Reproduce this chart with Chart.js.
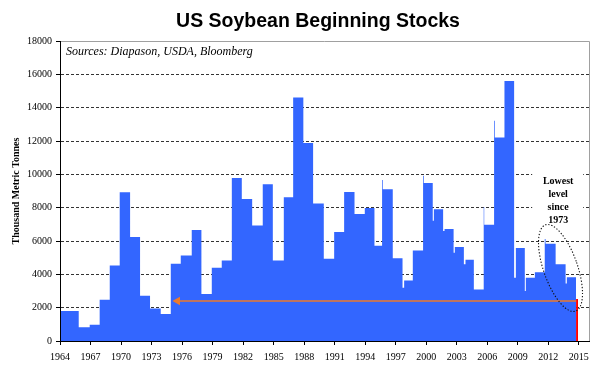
<!DOCTYPE html>
<html><head><meta charset="utf-8">
<script src="https://cdn.jsdelivr.net/npm/chart.js@4.4.0/dist/chart.umd.min.js"></script>
<style>html,body{margin:0;padding:0;background:#fff;}#wrap{width:610px;height:375px;}</style>
</head><body><div id="wrap"><canvas id="c" width="610" height="375"></canvas></div>
<script>
const chartTitle = 'US Soybean Beginning Stocks';
const sourceNote = 'Sources: Diapason, USDA, Bloomberg';
const yAxisTitle = 'Thousand Metric Tonnes';
const calloutLines = ['Lowest', 'level', 'since', '1973'];
const tickYears = [1964,1967,1970,1973,1976,1979,1982,1985,1988,1991,1994,1997,2000,2003,2006,2009,2012,2015];
// decimal year at which each stock level starts in the source series
const periodStart = [1964.00,1965.84,1966.92,1967.90,1968.89,1969.87,1970.89,1971.87,1972.85,1973.90,
  1974.89,1975.87,1976.95,1977.90,1978.92,1979.90,1980.89,1981.87,1982.89,1983.93,
  1984.92,1986.00,1986.92,1987.92,1988.88,1989.93,1990.95,1991.93,1992.95,1993.96,
  1994.91,1995.66,1995.73,1996.71,1997.67,1997.83,1998.68,1999.69,1999.76,2000.64,
  2000.75,2001.66,2001.80,2002.69,2002.81,2003.70,2003.86,2004.68,2005.65,2005.70,
  2006.67,2006.74,2007.69,2008.64,2008.81,2009.69,2009.79,2010.68,2011.65,2011.73,
  2012.72,2013.70,2013.82];
// thousand metric tonnes
const stocks = [1800,818,978,2475,4530,8920,6247,2714,1956,1617,
  4630,5129,6667,2814,4391,4830,9780,8522,6926,9400,
  4830,8623,14610,11876,8243,4930,6547,8942,7625,7984,
  5709,9661,9102,4970,3200,3632,5428,9910,9480,7210,
  7904,6600,6724,5300,5646,4610,4868,3090,8040,6975,
  13210,12215,15606,3790,5580,3000,3792,4131,6125,5828,
  4611,3450,3832];
const seriesEnd = 2014.73;
const latestStart = 2014.73, latestEnd = 2014.92, latestStock = 2515;
const lowLineStart = 1975.55, lowLineEnd = 2014.73, lowLevel = 2400;
const calloutYear = 2012.97, calloutTopValue = 9700;
const ellipseYear = 2013.2, ellipseValue = 4380;

const blueData = periodStart.map((x, i) => ({x, y: stocks[i]}));
blueData.push({x: seriesEnd, y: 0});
const redData = [{x: latestStart, y: latestStock}, {x: latestEnd, y: 0}];
const lineData = [{x: lowLineStart, y: lowLevel}, {x: lowLineEnd, y: lowLevel}];

const decor = {
  id: 'decor',
  afterDatasetsDraw(chart) {
    const {ctx, chartArea: a, scales: {x, y}} = chart;
    ctx.save();
    ctx.strokeStyle = '#a0a0a0'; ctx.lineWidth = 1; ctx.setLineDash([]);
    ctx.beginPath();
    ctx.moveTo(a.left, Math.round(a.top) + 0.5);
    ctx.lineTo(Math.round(a.right) + 0.5, Math.round(a.top) + 0.5);
    ctx.lineTo(Math.round(a.right) + 0.5, a.bottom);
    ctx.stroke();
    ctx.fillStyle = '#000';
    ctx.textAlign = 'center'; ctx.textBaseline = 'alphabetic';
    ctx.font = 'bold 19.5px "Liberation Sans", Arial, sans-serif';
    ctx.fillText(chartTitle, 318, 27);
    ctx.textAlign = 'left';
    ctx.font = 'italic 12px "Liberation Serif", serif';
    ctx.fillText(sourceNote, a.left + 6, a.top + 13.5);
    const tx = x.getPixelForValue(calloutYear);
    const ty = y.getPixelForValue(calloutTopValue);
    ctx.fillStyle = '#fff';
    ctx.fillRect(tx - 26, ty - 9, 51, 55);
    ctx.fillStyle = '#000';
    ctx.textAlign = 'center';
    ctx.font = 'bold 10px "Liberation Serif", serif';
    calloutLines.forEach((t, i) => ctx.fillText(t, tx, ty + 5 + i * 12.9));
    const ex = x.getPixelForValue(ellipseYear);
    const ey = y.getPixelForValue(ellipseValue);
    ctx.strokeStyle = '#111'; ctx.lineWidth = 1.1; ctx.setLineDash([1.3, 1.8]);
    ctx.beginPath();
    ctx.ellipse(ex, ey, 17, 45.7, -19.2 * Math.PI / 180, 0, Math.PI * 2);
    ctx.stroke();
    ctx.restore();
  }
};

Chart.defaults.font.family = '"Liberation Serif", "Times New Roman", serif';
Chart.defaults.color = '#000';

new Chart(document.getElementById('c'), {
  type: 'line',
  data: {
    datasets: [
      {label: 'Lowest level line', data: lineData, borderColor: '#ec7a2c', backgroundColor: '#ec7a2c',
        borderWidth: 1.5, fill: false, pointStyle: 'triangle', pointRotation: -90,
        pointRadius: [3.5, 0], pointHoverRadius: 0},
      {label: 'Latest', data: redData, stepped: 'before', borderWidth: 0, borderColor: 'rgba(0,0,0,0)',
        backgroundColor: '#ff0000', fill: 'origin', pointRadius: 0, pointHoverRadius: 0},
      {label: 'Beginning stocks', data: blueData, stepped: 'before', borderWidth: 0, borderColor: 'rgba(0,0,0,0)',
        backgroundColor: '#3366ff', fill: 'origin', pointRadius: 0, pointHoverRadius: 0}
    ]
  },
  plugins: [decor],
  options: {
    responsive: false,
    animation: false,
    events: [],
    layout: {padding: {top: 41, right: 21, left: 0, bottom: 0}},
    plugins: {legend: {display: false}, tooltip: {enabled: false}, title: {display: false}},
    scales: {
      x: {
        type: 'linear', min: 1964, max: 2016,
        afterBuildTicks: s => { s.ticks = tickYears.map(v => ({value: v})); },
        afterFit: s => { s.height = 34; },
        grid: {drawOnChartArea: false, drawTicks: true, tickLength: 4, color: '#000', tickColor: '#000'},
        border: {display: true, color: '#000', width: 1, z: 1},
        ticks: {font: {size: 10}, color: '#000', padding: 6, maxRotation: 0, autoSkip: false,
          callback: v => String(v)}
      },
      y: {
        min: 0, max: 18000,
        afterFit: s => { s.width = 60; },
        ticks: {stepSize: 2000, font: {size: 10}, color: '#000', padding: 4, callback: v => String(v)},
        grid: {
          color: c => (c.tick && (c.tick.value === 0 || c.tick.value === 18000)) ? 'rgba(0,0,0,0)' : '#333',
          tickColor: '#000', tickLength: 4, lineWidth: 1, tickBorderDash: []
        },
        border: {display: true, color: '#000', width: 1, dash: [3, 2], z: 1},
        title: {display: true, text: yAxisTitle, font: {size: 10, weight: 'bold'}, color: '#000',
          padding: {top: 10, bottom: 0}}
      }
    }
  }
});
</script></body></html>
